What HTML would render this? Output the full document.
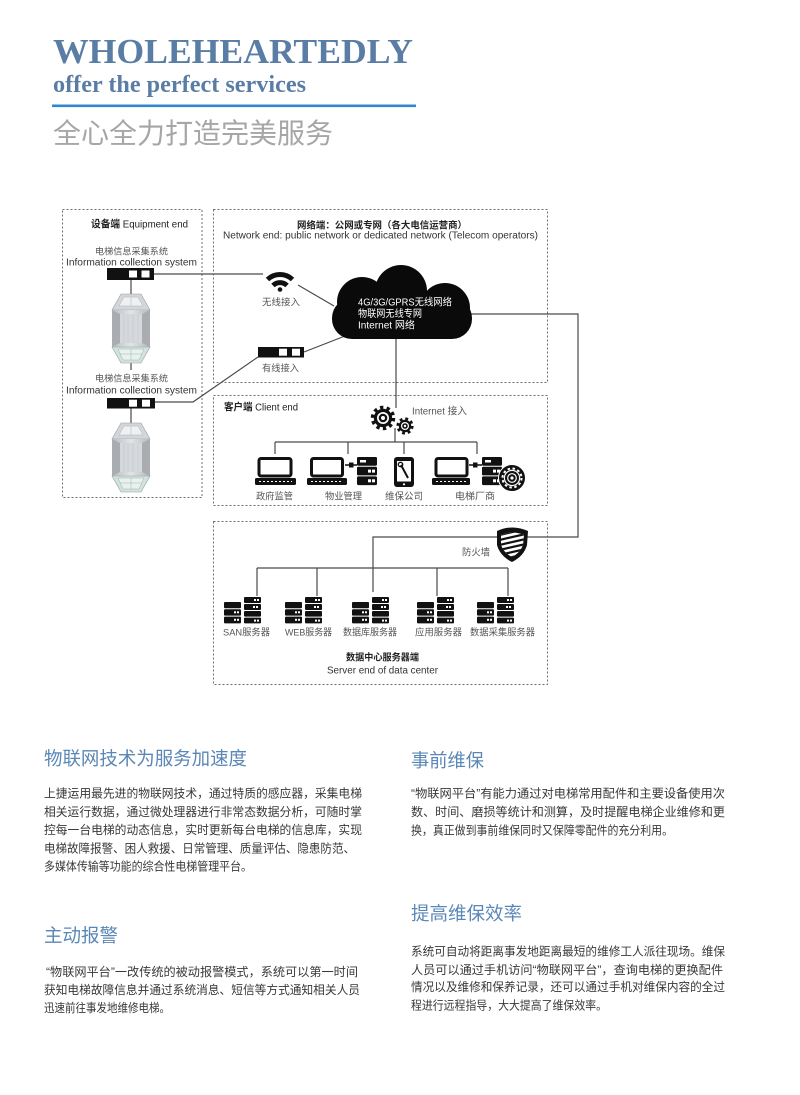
<!DOCTYPE html>
<html>
<head>
<meta charset="utf-8">
<style>
html,body{margin:0;padding:0;background:#fff;}
body{width:800px;height:1095px;overflow:hidden;}
svg{display:block;}
</style>
</head>
<body>
<svg width="800" height="1095" viewBox="0 0 800 1095" xmlns="http://www.w3.org/2000/svg" font-family="'Liberation Sans','Noto Sans CJK SC',sans-serif">
<defs>
  <linearGradient id="wall" x1="0" x2="1" y1="0" y2="0">
    <stop offset="0" stop-color="#b9bdc1"/>
    <stop offset="0.5" stop-color="#e2e5e7"/>
    <stop offset="1" stop-color="#b5b9bd"/>
  </linearGradient>
  <clipPath id="shieldClip">
    <path d="M501,535 Q512,530 524,535 L523,545 Q520,553 512,557 Q504,553 501,545 Z"/>
  </clipPath>
  <g id="elev">
    <polygon points="121,294 141,294 150,310 112,310" fill="#d3d7da" stroke="#9a9ea2" stroke-width="0.6"/>
    <polygon points="124,297 138,297 143,306 119,306" fill="#eef0f1" stroke="#b0b4b8" stroke-width="0.5"/>
    <line x1="131" y1="297" x2="131" y2="306" stroke="#b0b4b8" stroke-width="0.5"/>
    <rect x="112" y="310" width="38" height="37" fill="url(#wall)"/>
    <polygon points="112,310 120,314 120,343 112,347" fill="#a9adb1"/>
    <polygon points="150,310 142,314 142,343 150,347" fill="#a9adb1"/>
    <rect x="120" y="314" width="22" height="29" fill="#d6d9dc"/>
    <line x1="124" y1="314" x2="124" y2="343" stroke="#bfc3c6" stroke-width="0.6"/>
    <line x1="128" y1="314" x2="128" y2="343" stroke="#c3c7ca" stroke-width="0.6"/>
    <line x1="133" y1="314" x2="133" y2="343" stroke="#bfc3c6" stroke-width="0.6"/>
    <line x1="138" y1="314" x2="138" y2="343" stroke="#c3c7ca" stroke-width="0.6"/>
    <polygon points="112,347 150,347 141,363 121,363" fill="#d4e2dd" stroke="#8fa39b" stroke-width="0.6"/>
    <polygon points="118,349 144,349 139,360 123,360" fill="#e8f1ee" stroke="#9fb3ab" stroke-width="0.5"/>
    <line x1="131" y1="349" x2="131" y2="360" stroke="#9fb3ab" stroke-width="0.5"/>
    <line x1="120" y1="354" x2="142" y2="354" stroke="#9fb3ab" stroke-width="0.5"/>
  </g>
  <g id="srvgrp">
    <rect x="0" y="5" width="17" height="6.3" rx="1" fill="#111"/>
    <rect x="0" y="12.3" width="17" height="6.3" rx="1" fill="#111"/>
    <rect x="0" y="19.6" width="17" height="6.8" rx="1" fill="#111"/>
    <rect x="10" y="14.3" width="2" height="2" fill="#fff"/><rect x="13" y="14.3" width="2" height="2" fill="#fff"/>
    <rect x="10" y="21.8" width="2" height="2" fill="#fff"/><rect x="13" y="21.8" width="2" height="2" fill="#fff"/>
    <rect x="20" y="0" width="17" height="6" rx="1" fill="#111"/>
    <rect x="20" y="7" width="17" height="6" rx="1" fill="#111"/>
    <rect x="20" y="14" width="17" height="5.6" rx="1" fill="#111"/>
    <rect x="20" y="20.6" width="17" height="5.8" rx="1" fill="#111"/>
    <rect x="30" y="2" width="2" height="2" fill="#fff"/><rect x="33" y="2" width="2" height="2" fill="#fff"/>
    <rect x="29" y="9" width="2" height="2" fill="#fff"/><rect x="32" y="9" width="2" height="2" fill="#fff"/>
    <rect x="30" y="22.6" width="2" height="2" fill="#fff"/><rect x="33" y="22.6" width="2" height="2" fill="#fff"/>
  </g>
  <g id="srv1">
    <rect x="0" y="0" width="20" height="8.7" rx="1.2" fill="#111"/>
    <rect x="0" y="9.7" width="20" height="8.7" rx="1.2" fill="#111"/>
    <rect x="0" y="19.4" width="20" height="8.7" rx="1.2" fill="#111"/>
    <rect x="3" y="3" width="6" height="2.5" fill="#fff"/>
    <rect x="11" y="12.6" width="3" height="3" fill="#fff"/><rect x="15" y="12.6" width="3" height="3" fill="#fff"/>
    <rect x="11" y="22.3" width="3" height="3" fill="#fff"/><rect x="15" y="22.3" width="3" height="3" fill="#fff"/>
  </g>
</defs>

<!-- HEADER -->
<text x="53" y="63" font-family="'Liberation Serif',serif" font-weight="bold" font-size="35" fill="#5a7da5" textLength="360" lengthAdjust="spacingAndGlyphs">WHOLEHEARTEDLY</text>
<text x="53" y="92" font-family="'Liberation Serif',serif" font-weight="bold" font-size="24" fill="#5a7da5" textLength="253" lengthAdjust="spacingAndGlyphs">offer the perfect services</text>
<rect x="52" y="104.5" width="364" height="2.6" fill="#2f87d3"/>
<text x="53" y="143" font-size="28" fill="#a6a6a6" textLength="280" lengthAdjust="spacingAndGlyphs">全心全力打造完美服务</text>

<!-- DASHED BOXES -->
<g fill="none" stroke="#6e6e6e" stroke-width="1" stroke-dasharray="2 2">
  <rect x="62.5" y="209.5" width="139.5" height="288"/>
  <rect x="213.5" y="209.5" width="334" height="173"/>
  <rect x="213.5" y="395.5" width="334" height="110"/>
  <rect x="213.5" y="521.5" width="334" height="163"/>
</g>

<!-- CONNECTORS -->
<g fill="none" stroke="#4a4a4a" stroke-width="1.2">
  <line x1="154" y1="274" x2="263" y2="274"/>
  <line x1="131" y1="280" x2="131" y2="294"/>
  <line x1="131" y1="363" x2="131" y2="370"/>
  <line x1="131" y1="408" x2="131" y2="423"/>
  <polyline points="155,402 193,402 258,357"/>
  <line x1="304" y1="352" x2="345" y2="336"/>
  <line x1="298" y1="285" x2="334" y2="306"/>
  <polyline points="470,314 578,314 578,537 373,537 373,592"/>
  <line x1="396" y1="336" x2="396" y2="408"/>
  <line x1="395" y1="428" x2="395" y2="442"/>
  <line x1="275" y1="442" x2="477" y2="442"/>
  <line x1="275" y1="442" x2="275" y2="454"/>
  <line x1="348" y1="442" x2="348" y2="454"/>
  <line x1="404" y1="442" x2="404" y2="454"/>
  <line x1="477" y1="442" x2="477" y2="454"/>
  <line x1="257" y1="568" x2="508" y2="568"/>
  <line x1="257" y1="568" x2="257" y2="596"/>
  <line x1="317" y1="568" x2="317" y2="596"/>
  <line x1="437" y1="568" x2="437" y2="596"/>
  <line x1="508" y1="568" x2="508" y2="596"/>
</g>

<!-- EQUIPMENT END -->
<text x="91" y="227.5" font-size="10" fill="#222" textLength="97" lengthAdjust="spacingAndGlyphs"><tspan font-weight="bold">设备端</tspan> Equipment end</text>
<text x="95" y="254.5" font-size="9.2" fill="#555" textLength="73" lengthAdjust="spacingAndGlyphs">电梯信息采集系统</text>
<text x="66" y="265.5" font-size="10" fill="#333" textLength="131" lengthAdjust="spacingAndGlyphs">Information collection system</text>
<rect x="107" y="268" width="47" height="12" fill="#111"/>
<rect x="129" y="270.5" width="8" height="7" fill="#fff"/><rect x="141.5" y="270.5" width="8" height="7" fill="#fff"/>
<use href="#elev"/>
<text x="95" y="381.5" font-size="9.2" fill="#555" textLength="73" lengthAdjust="spacingAndGlyphs">电梯信息采集系统</text>
<text x="66" y="393.5" font-size="10" fill="#333" textLength="131" lengthAdjust="spacingAndGlyphs">Information collection system</text>
<rect x="107" y="398" width="48" height="10.5" fill="#111"/>
<rect x="129" y="399.7" width="8" height="7" fill="#fff"/><rect x="142" y="399.7" width="8" height="7" fill="#fff"/>
<use href="#elev" transform="translate(0,129)"/>

<!-- NETWORK END -->
<text x="297" y="228.5" font-size="9.4" font-weight="bold" fill="#222" textLength="170" lengthAdjust="spacingAndGlyphs">网络端：公网或专网（各大电信运营商）</text>
<text x="223" y="238.5" font-size="10" fill="#333" textLength="315" lengthAdjust="spacingAndGlyphs">Network end: public network or dedicated network (Telecom operators)</text>
<g fill="none" stroke="#111" stroke-width="5" stroke-linecap="butt">
  <path d="M267.5,279.5 A18,18 0 0 1 292.5,279.5"/>
  <path d="M273,285.5 A10,10 0 0 1 287,285.5"/>
</g>
<circle cx="280" cy="289.5" r="2.3" fill="#111"/>
<text x="262" y="305.5" font-size="9.5" fill="#555" textLength="38" lengthAdjust="spacingAndGlyphs">无线接入</text>
<rect x="258" y="347" width="46" height="10.5" fill="#111"/>
<rect x="279" y="348.7" width="8" height="7" fill="#fff"/><rect x="292" y="348.7" width="8" height="7" fill="#fff"/>
<text x="262" y="371.5" font-size="9.5" fill="#555" textLength="37" lengthAdjust="spacingAndGlyphs">有线接入</text>
<g fill="#0a0a0a">
  <rect x="332" y="298" width="140" height="41" rx="20"/>
  <circle cx="362" cy="302" r="25"/>
  <circle cx="401" cy="291" r="26"/>
  <circle cx="445" cy="308" r="25"/>
</g>
<text x="358" y="305.5" font-size="10" fill="#fff" textLength="94" lengthAdjust="spacingAndGlyphs">4G/3G/GPRS无线网络</text>
<text x="358" y="317" font-size="10" fill="#fff" textLength="64" lengthAdjust="spacingAndGlyphs">物联网无线专网</text>
<text x="358" y="328.5" font-size="10" fill="#fff" textLength="57" lengthAdjust="spacingAndGlyphs">Internet 网络</text>

<!-- CLIENT END -->
<text x="224" y="410.5" font-size="10" fill="#222" textLength="74" lengthAdjust="spacingAndGlyphs"><tspan font-weight="bold">客户端</tspan> Client end</text>
<text x="412" y="414.5" font-size="10" fill="#555" textLength="55" lengthAdjust="spacingAndGlyphs">Internet 接入</text>
<circle cx="383" cy="418" r="10.5" fill="none" stroke="#111" stroke-width="3.5" stroke-dasharray="3.3 3.3"/>
<circle cx="383" cy="418" r="9.2" fill="#111"/>
<circle cx="383" cy="418" r="6" fill="#fff"/>
<circle cx="383" cy="418" r="4.3" fill="#111"/>
<circle cx="383" cy="418" r="2" fill="#fff"/>
<circle cx="405" cy="426" r="7.2" fill="none" stroke="#111" stroke-width="2.8" stroke-dasharray="2.83 2.83"/>
<circle cx="405" cy="426" r="6.2" fill="#111"/>
<circle cx="405" cy="426" r="4" fill="#fff"/>
<circle cx="405" cy="426" r="2.8" fill="#111"/>
<circle cx="405" cy="426" r="1.2" fill="#fff"/>
<rect x="259" y="458.5" width="32" height="17.5" rx="2" fill="#fff" stroke="#111" stroke-width="3"/>
<rect x="255" y="478" width="41" height="7" rx="1.5" fill="#111"/>
<line x1="259" y1="481.5" x2="292" y2="481.5" stroke="#fff" stroke-width="1" stroke-dasharray="2 2"/>
<rect x="311.5" y="458.5" width="31" height="17.5" rx="2" fill="#fff" stroke="#111" stroke-width="3"/>
<rect x="307" y="478" width="40" height="7" rx="1.5" fill="#111"/>
<line x1="311" y1="481.5" x2="343" y2="481.5" stroke="#fff" stroke-width="1" stroke-dasharray="2 2"/>
<line x1="345" y1="465" x2="357" y2="465" stroke="#111" stroke-width="1.5"/>
<rect x="349" y="462.5" width="4.5" height="5" fill="#111"/>
<use href="#srv1" transform="translate(357,457)"/>
<rect x="394" y="457" width="20" height="30" rx="3" fill="#111"/>
<rect x="397" y="461" width="14" height="20.5" fill="#fff"/>
<line x1="401" y1="465" x2="408" y2="478" stroke="#111" stroke-width="2"/>
<circle cx="400.5" cy="464.5" r="2.2" fill="none" stroke="#111" stroke-width="1.4"/>
<circle cx="404" cy="484.3" r="1.1" fill="#fff"/>
<rect x="436" y="458.5" width="31" height="17.5" rx="2" fill="#fff" stroke="#111" stroke-width="3"/>
<rect x="432" y="478" width="38" height="7" rx="1.5" fill="#111"/>
<line x1="436" y1="481.5" x2="467" y2="481.5" stroke="#fff" stroke-width="1" stroke-dasharray="2 2"/>
<line x1="469" y1="465" x2="482" y2="465" stroke="#111" stroke-width="1.5"/>
<rect x="473" y="462.5" width="4.5" height="5" fill="#111"/>
<use href="#srv1" transform="translate(482,457)"/>
<circle cx="512" cy="478" r="13.5" fill="#111" stroke="#fff" stroke-width="1"/>
<circle cx="512" cy="478" r="9.5" fill="none" stroke="#fff" stroke-width="2" stroke-dasharray="2.5 2.5"/>
<circle cx="512" cy="478" r="7.6" fill="none" stroke="#fff" stroke-width="1.2"/>
<circle cx="512" cy="478" r="4.3" fill="none" stroke="#fff" stroke-width="1.2"/>
<circle cx="512" cy="478" r="1.6" fill="#fff"/>
<g font-size="9.5" fill="#555">
  <text x="256" y="499.5" textLength="37" lengthAdjust="spacingAndGlyphs">政府监管</text>
  <text x="325" y="499.5" textLength="37" lengthAdjust="spacingAndGlyphs">物业管理</text>
  <text x="385" y="499.5" textLength="38" lengthAdjust="spacingAndGlyphs">维保公司</text>
  <text x="455" y="499.5" textLength="40" lengthAdjust="spacingAndGlyphs">电梯厂商</text>
</g>

<!-- DATA CENTER -->
<path d="M497,531 Q512,524 528,531 L527,545 Q524,556 512,562 Q500,556 497,545 Z" fill="#111"/>
<path d="M501,535 Q512,530 524,535 L523,545 Q520,553 512,557 Q504,553 501,545 Z" fill="#fff"/>
<g clip-path="url(#shieldClip)" stroke="#111" stroke-width="2.2">
  <line x1="495" y1="536" x2="530" y2="528"/>
  <line x1="495" y1="541" x2="530" y2="533"/>
  <line x1="495" y1="546" x2="530" y2="538"/>
  <line x1="495" y1="551" x2="530" y2="543"/>
  <line x1="495" y1="556" x2="530" y2="548"/>
  <line x1="495" y1="561" x2="530" y2="553"/>
</g>
<text x="462" y="555.5" font-size="9.5" fill="#555" textLength="28" lengthAdjust="spacingAndGlyphs">防火墙</text>
<use href="#srvgrp" transform="translate(224,597)"/>
<use href="#srvgrp" transform="translate(285,597)"/>
<use href="#srvgrp" transform="translate(352,597)"/>
<use href="#srvgrp" transform="translate(417,597)"/>
<use href="#srvgrp" transform="translate(477,597)"/>
<g font-size="9.5" fill="#555">
  <text x="223" y="635.5" textLength="47" lengthAdjust="spacingAndGlyphs">SAN服务器</text>
  <text x="285" y="635.5" textLength="47" lengthAdjust="spacingAndGlyphs">WEB服务器</text>
  <text x="343" y="635.5" textLength="54" lengthAdjust="spacingAndGlyphs">数据库服务器</text>
  <text x="415" y="635.5" textLength="47" lengthAdjust="spacingAndGlyphs">应用服务器</text>
  <text x="470" y="635.5" textLength="65" lengthAdjust="spacingAndGlyphs">数据采集服务器</text>
</g>
<text x="346" y="660.5" font-size="9.5" font-weight="bold" fill="#222" textLength="73" lengthAdjust="spacingAndGlyphs">数据中心服务器端</text>
<text x="327" y="673.5" font-size="10" fill="#333" textLength="111" lengthAdjust="spacingAndGlyphs">Server end of data center</text>

<!-- TEXT SECTIONS -->
<g font-size="18.5" fill="#5b87b6">
  <text x="44" y="765" textLength="203" lengthAdjust="spacingAndGlyphs">物联网技术为服务加速度</text>
  <text x="411" y="767" textLength="73" lengthAdjust="spacingAndGlyphs">事前维保</text>
  <text x="44" y="942" textLength="74" lengthAdjust="spacingAndGlyphs">主动报警</text>
  <text x="411" y="920" textLength="111" lengthAdjust="spacingAndGlyphs">提高维保效率</text>
</g>
<g font-size="12" fill="#383838">
  <text x="44" y="797.5" textLength="318" lengthAdjust="spacingAndGlyphs">上捷运用最先进的物联网技术，通过特质的感应器，采集电梯</text>
  <text x="44" y="815.8" textLength="318" lengthAdjust="spacingAndGlyphs">相关运行数据，通过微处理器进行非常态数据分析，可随时掌</text>
  <text x="44" y="834" textLength="318" lengthAdjust="spacingAndGlyphs">控每一台电梯的动态信息，实时更新每台电梯的信息库，实现</text>
  <text x="44" y="852.3" textLength="311" lengthAdjust="spacingAndGlyphs">电梯故障报警、困人救援、日常管理、质量评估、隐患防范、</text>
  <text x="44" y="870.5" textLength="208" lengthAdjust="spacingAndGlyphs">多媒体传输等功能的综合性电梯管理平台。</text>

  <text x="411" y="797.5" textLength="314" lengthAdjust="spacingAndGlyphs">“物联网平台”有能力通过对电梯常用配件和主要设备使用次</text>
  <text x="411" y="816" textLength="314" lengthAdjust="spacingAndGlyphs">数、时间、磨损等统计和测算，及时提醒电梯企业维修和更</text>
  <text x="411" y="834.5" textLength="262" lengthAdjust="spacingAndGlyphs">换，真正做到事前维保同时又保障零配件的充分利用。</text>

  <text x="46" y="976.2" textLength="312" lengthAdjust="spacingAndGlyphs">“物联网平台”一改传统的被动报警模式，系统可以第一时间</text>
  <text x="44" y="993.8" textLength="316" lengthAdjust="spacingAndGlyphs">获知电梯故障信息并通过系统消息、短信等方式通知相关人员</text>
  <text x="44" y="1011.8" textLength="126" lengthAdjust="spacingAndGlyphs">迅速前往事发地维修电梯。</text>

  <text x="411" y="955.5" textLength="314" lengthAdjust="spacingAndGlyphs">系统可自动将距离事发地距离最短的维修工人派往现场。维保</text>
  <text x="411" y="973.8" textLength="312" lengthAdjust="spacingAndGlyphs">人员可以通过手机访问“物联网平台”，查询电梯的更换配件</text>
  <text x="411" y="991.2" textLength="314" lengthAdjust="spacingAndGlyphs">情况以及维修和保养记录，还可以通过手机对维保内容的全过</text>
  <text x="411" y="1009.5" textLength="196" lengthAdjust="spacingAndGlyphs">程进行远程指导，大大提高了维保效率。</text>
</g>
</svg>
</body>
</html>
